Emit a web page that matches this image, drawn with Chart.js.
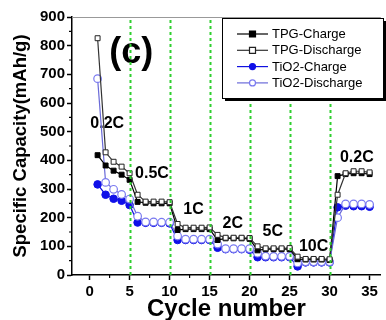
<!DOCTYPE html>
<html>
<head>
<meta charset="utf-8">
<script src="https://cdn.jsdelivr.net/npm/chart.js@4/dist/chart.umd.min.js"></script>
<style>
    html, body { margin: 0; padding: 0; background: #fff; }
    #wrap { width: 386px; height: 320px; }
</style>
</head>
<body>
<div id="wrap"><canvas id="rateChart" width="386" height="320"></canvas></div>
<script>
// cycle numbers and capacities (mAh/g)
const cycles = [1, 2, 3, 4, 5, 6, 7, 8, 9, 10, 11, 12, 13, 14, 15, 16, 17, 18, 19, 20,
    21, 22, 23, 24, 25, 26, 27, 28, 29, 30, 31, 32, 33, 34, 35];

const tpgCharge = [418, 382, 364, 350, 332, 255, 252, 250, 250, 250, 157, 160, 160, 160, 160,
    122, 128, 128, 128, 126, 86, 90, 90, 90, 90, 55, 54, 54, 54, 52, 345, 352, 355, 355, 352];
const tpgDischarge = [826, 428, 395, 378, 355, 280, 256, 256, 256, 254, 178, 165, 165, 165, 166,
    140, 130, 130, 130, 129, 100, 93, 93, 93, 94, 64, 56, 56, 56, 55, 280, 355, 362, 362, 358];
const tio2Charge = [316, 280, 266, 259, 244, 183, 182, 182, 182, 180, 122, 122, 122, 122, 122,
    95, 90, 90, 90, 88, 62, 62, 62, 62, 62, 30, 44, 44, 44, 44, 236, 242, 240, 240, 238];
const tio2Discharge = [685, 323, 299, 281, 265, 205, 185, 185, 184, 184, 136, 125, 125, 125, 125,
    108, 92, 92, 92, 92, 76, 66, 65, 65, 65, 42, 46, 46, 46, 46, 200, 248, 248, 248, 246];

const seriesNames = ["TPG-Charge", "TPG-Discharge", "TiO2-Charge", "TiO2-Discharge"];

const xTicks = [0, 5, 10, 15, 20, 25, 30, 35];
const yTicks = [0, 100, 200, 300, 400, 500, 600, 700, 800, 900];

// cycles where the C-rate changes
const rateSwitches = [5, 10, 15, 20, 25, 30];
const rateNames = ["0.2C", "0.5C", "1C", "2C", "5C", "10C", "0.2C"];

// where the rate labels sit (data coords)
const rateLabelPos = [[2.2, 527], [7.8, 355], [13.0, 229], [17.9, 179], [22.9, 150], [28.0, 99], [33.4, 410]];

function points(values) {
    return cycles.map((c, i) => ({ x: c, y: values[i] }));
}

const FONT = "Liberation Sans, Arial, sans-serif";

const minorTicks = {
    id: "minorTicks",
    afterDraw(chart) {
        const ctx = chart.ctx;
        const xs = chart.scales.x, ys = chart.scales.y;
        const area = chart.chartArea;
        ctx.save();
        ctx.strokeStyle = "#000";
        ctx.lineWidth = 1.2;
        ctx.beginPath();
        for (let v = 2.5; v < 36; v += 5) {
            const px = xs.getPixelForValue(v);
            ctx.moveTo(px, area.bottom);
            ctx.lineTo(px, area.bottom + 3);
        }
        for (let v = 50; v < 900; v += 100) {
            const py = ys.getPixelForValue(v);
            ctx.moveTo(area.left, py);
            ctx.lineTo(area.left - 3, py);
        }
        ctx.stroke();
        // gray top frame
        ctx.strokeStyle = "#999";
        ctx.lineWidth = 1;
        ctx.beginPath();
        ctx.moveTo(area.left, area.top + 0.5);
        ctx.lineTo(area.right, area.top + 0.5);
        ctx.stroke();
        ctx.restore();
    }
};

const rateLabels = {
    id: "rateLabels",
    beforeDatasetsDraw(chart) {
        const ctx = chart.ctx;
        const xs = chart.scales.x, ys = chart.scales.y;
        ctx.save();
        ctx.fillStyle = "#000";
        ctx.textAlign = "center";
        ctx.textBaseline = "middle";
        ctx.font = "bold 16px " + FONT;
        rateNames.forEach((name, i) => {
            ctx.fillText(name, xs.getPixelForValue(rateLabelPos[i][0]), ys.getPixelForValue(rateLabelPos[i][1]));
        });
        ctx.font = "bold 36px " + FONT;
        ctx.fillText("(c)", xs.getPixelForValue(5.2), ys.getPixelForValue(775));
        ctx.restore();
    },
    afterDatasetsDraw(chart) {
        const ctx = chart.ctx;
        const xs = chart.scales.x;
        const area = chart.chartArea;
        ctx.save();
        ctx.strokeStyle = "#2fcf2f";
        ctx.lineWidth = 2;
        ctx.setLineDash([3, 3]);
        rateSwitches.forEach(c => {
            const px = Math.round(xs.getPixelForValue(c)) + 0.5;
            ctx.beginPath();
            ctx.moveTo(px, area.bottom);
            ctx.lineTo(px, area.top);
            ctx.stroke();
        });
        ctx.restore();
    }
};

const boxLegend = {
    id: "boxLegend",
    afterDraw(chart) {
        const ctx = chart.ctx;
        const left = 222, top = 18, w = 161, h = 80;
        ctx.save();
        ctx.fillStyle = "#000";
        ctx.fillRect(left + 3, top + 3, w, h);
        ctx.fillStyle = "#fff";
        ctx.fillRect(left, top, w, h);
        ctx.strokeStyle = "#000";
        ctx.lineWidth = 1;
        ctx.strokeRect(left + 0.5, top + 0.5, w, h);
        ctx.font = "13px " + FONT;
        ctx.textBaseline = "middle";
        chart.data.datasets.forEach((ds, i) => {
            const y = 34 + i * 16.3;
            ctx.strokeStyle = ds.borderColor;
            ctx.lineWidth = 1.2;
            ctx.beginPath();
            ctx.moveTo(237, y);
            ctx.lineTo(268, y);
            ctx.stroke();
            ctx.fillStyle = ds.pointBackgroundColor;
            ctx.strokeStyle = ds.pointBorderColor;
            ctx.beginPath();
            if (ds.pointStyle === "rect") {
                ctx.rect(249.5, y - 3, 6, 6);
            } else {
                ctx.arc(252.5, y, 3, 0, Math.PI * 2);
            }
            ctx.fill();
            ctx.stroke();
            ctx.fillStyle = "#000";
            ctx.fillText(ds.label, 272, y + 0.5);
        });
        ctx.restore();
    }
};

new Chart(document.getElementById("rateChart"), {
    type: "line",
    data: {
        datasets: [
            {
                label: seriesNames[0], data: points(tpgCharge), order: 2,
                borderColor: "#000", borderWidth: 1.2,
                pointStyle: "rect", pointRadius: 3.5,
                pointBackgroundColor: "#000", pointBorderColor: "#000", pointBorderWidth: 1
            },
            {
                label: seriesNames[1], data: points(tpgDischarge), order: 1,
                borderColor: "#333", borderWidth: 1.2,
                pointStyle: "rect", pointRadius: 3.5,
                pointBackgroundColor: "#fff", pointBorderColor: "#222", pointBorderWidth: 1
            },
            {
                label: seriesNames[2], data: points(tio2Charge), order: 4,
                borderColor: "#1010e0", borderWidth: 1.2,
                pointStyle: "circle", pointRadius: 3.8,
                pointBackgroundColor: "#1010e8", pointBorderColor: "#1010e8", pointBorderWidth: 1
            },
            {
                label: seriesNames[3], data: points(tio2Discharge), order: 3,
                borderColor: "#6a6ad8", borderWidth: 1.2,
                pointStyle: "circle", pointRadius: 3.8,
                pointBackgroundColor: "#fff", pointBorderColor: "#7a7af0", pointBorderWidth: 1.2
            }
        ]
    },
    options: {
        responsive: false,
        animation: false,
        layout: { padding: { top: 17, left: 0, right: 0, bottom: 0 } },
        plugins: { legend: { display: false }, tooltip: { enabled: false } },
        scales: {
            x: {
                type: "linear", min: -2.2, max: 36.4,
                afterBuildTicks: s => { s.ticks = xTicks.map(v => ({ value: v })); },
                afterFit: s => { s.height = 45; },
                grid: { drawOnChartArea: false, tickLength: 5, tickColor: "#000", tickWidth: 1.5 },
                border: { color: "#000", width: 1.5 },
                ticks: { color: "#000", font: { family: FONT, size: 15, weight: "bold" }, padding: 3, maxRotation: 0 },
                title: {
                    display: true, text: "Cycle number", color: "#000",
                    font: { family: FONT, size: 24, weight: "bold", lineHeight: 0.85 }, padding: { top: 0, bottom: 0 }
                }
            },
            y: {
                min: 0, max: 900,
                afterBuildTicks: s => { s.ticks = yTicks.map(v => ({ value: v })); },
                afterFit: s => { s.width = 72; },
                grid: { drawOnChartArea: false, tickLength: 5, tickColor: "#000", tickWidth: 1.5 },
                border: { color: "#000", width: 1.5 },
                ticks: { color: "#000", font: { family: FONT, size: 15, weight: "bold" }, padding: 2 },
                title: {
                    display: true, text: "Specific Capacity(mAh/g)", color: "#000",
                    font: { family: FONT, size: 18.5, weight: "bold" }, padding: { top: 10, bottom: 0 }
                }
            }
        }
    },
    plugins: [rateLabels, minorTicks, boxLegend]
});
</script>
</body>
</html>
